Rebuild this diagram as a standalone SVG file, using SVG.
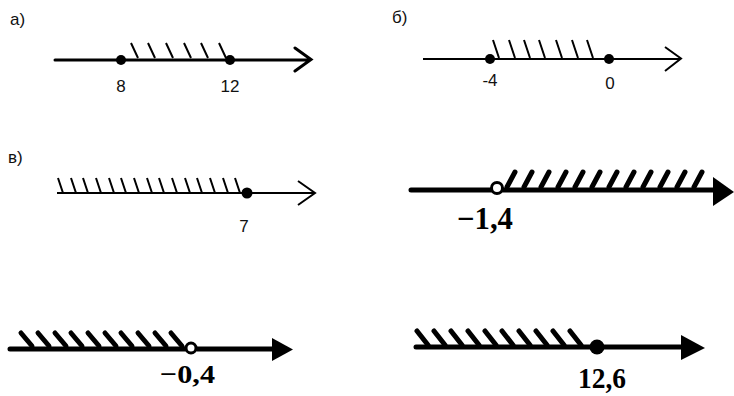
<svg xmlns="http://www.w3.org/2000/svg" width="734" height="396" viewBox="0 0 734 396">
<style>
.thin{stroke:#000;stroke-width:3;fill:none;stroke-linecap:round}
.h1{stroke:#000;stroke-width:2;fill:none}
.bold{stroke:#000;stroke-width:5;fill:none;stroke-linecap:round}
.hb{stroke:#000;stroke-width:5;fill:none;stroke-linecap:round}
.lab{font-family:"Liberation Sans",Arial,sans-serif;font-size:17px;fill:#111}
.bl{font-family:"Liberation Serif","Times New Roman",serif;font-weight:bold;fill:#000}
</style>
<rect width="734" height="396" fill="#fff"/>
<g id="a">
<text class="lab" x="10" y="25">а)</text>
<path class="thin" d="M55 60H310M295 48L311 59.5L295 71"/>
<path class="h1" d="M131 43l7 15M148 43l7 15M166 43l7 15M184 43l7 15M201 43l7 15M219 43l7 15"/>
<circle cx="121" cy="60" r="5"/>
<circle cx="230" cy="60" r="5"/>
<text class="lab" x="121" y="92" text-anchor="middle">8</text>
<text class="lab" x="230" y="92" text-anchor="middle">12</text>
</g>
<g id="b">
<text class="lab" x="392" y="23">б)</text>
<path class="h1" d="M423 59H680"/>
<path class="h1" d="M665 47L681 58.5L665 71"/>
<path class="h1" d="M493 40l6 18M509 40l6 18M524 40l6 18M539 40l6 18M556 40l6 18M572 40l6 18M587 40l6 18"/>
<circle cx="490" cy="59" r="5"/>
<circle cx="609" cy="59" r="5"/>
<text class="lab" x="490" y="86" text-anchor="middle">-4</text>
<text class="lab" x="610" y="89" text-anchor="middle">0</text>
</g>
<g id="c">
<text class="lab" x="8" y="163">в)</text>
<path class="h1" d="M57 193H314M298 181L315 193L298 205"/>
<path class="h1" d="M58 178l5 15M71 178l5 15M83 178l5 15M96 178l5 15M109 178l5 15M121 178l5 15M134 178l5 15M147 178l5 15M159 178l5 15M172 178l5 15M185 178l5 15M197 178l5 15M210 178l5 15M223 178l5 15M235 178l5 15"/>
<circle cx="247" cy="193" r="5.5"/>
<text class="lab" x="244" y="232" text-anchor="middle">7</text>
</g>
<g id="d">
<path class="bold" d="M411 190H491M503 190H715"/>
<path d="M713 177L734 192L713 206Z"/>
<path class="hb" d="M507 187l8 -15M524 187l8 -15M541 187l8 -15M558 187l8 -15M575 187l8 -15M592 187l8 -15M609 187l8 -15M626 187l8 -15M643 187l8 -15M660 187l8 -15M677 187l8 -15M694 187l8 -15"/>
<circle cx="497" cy="188" r="5.5" fill="#fff" stroke="#000" stroke-width="3"/>
<text class="bl" x="457" y="229" font-size="31" textLength="56" lengthAdjust="spacingAndGlyphs">−1,4</text>
</g>
<g id="e">
<path class="bold" d="M10 349H186M197 349H275"/>
<path d="M272 338L293 349.5L272 361Z"/>
<path class="hb" d="M21 333l11 13M38 333l11 13M55 333l11 13M71 333l11 13M88 333l11 13M105 333l11 13M121 333l11 13M138 333l11 13M155 333l11 13M171 333l11 13"/>
<circle cx="191" cy="348" r="5" fill="#fff" stroke="#000" stroke-width="3"/>
<text class="bl" x="160" y="383" font-size="26" textLength="55" lengthAdjust="spacingAndGlyphs">−0,4</text>
</g>
<g id="f">
<path class="bold" d="M416 347H685"/>
<path d="M681 335L705 348L681 360Z"/>
<path class="hb" d="M417 331l11 14M434 331l11 14M451 331l11 14M468 331l11 14M485 331l11 14M502 331l11 14M519 331l11 14M536 331l11 14M553 331l11 14M570 331l11 14"/>
<circle cx="597" cy="347" r="7.5"/>
<text class="bl" x="578" y="388" font-size="30" textLength="48" lengthAdjust="spacingAndGlyphs">12,6</text>
</g>
</svg>
